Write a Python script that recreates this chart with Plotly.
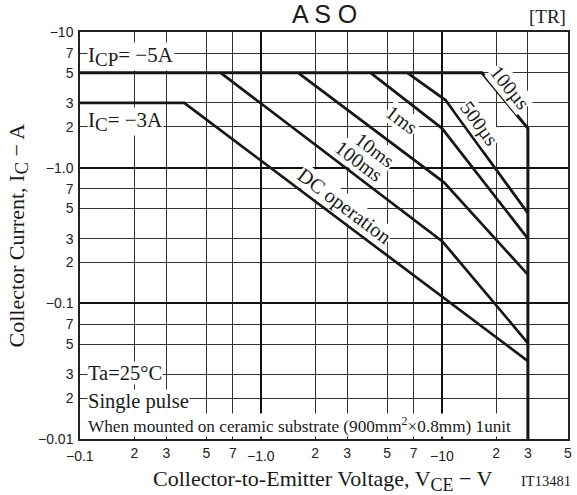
import math
import plotly.graph_objects as go

# ---------------- data (|V_CE| in V, |I_C| in A) ----------------
dc_v = [0.1, 0.377, 30]
dc_i = [3.0, 3.0, 0.0375]
ms100_v = [0.6, 10.1, 30]
ms100_i = [5.0, 0.286, 0.051]
ms10_v = [1.61, 10.3, 30]
ms10_i = [5.0, 0.78, 0.163]
ms1_v = [4.05, 10.05, 30]
ms1_i = [5.0, 1.95, 0.30]
us500_v = [6.47, 10.5, 30]
us500_i = [5.0, 3.15, 0.462]
env_v = [0.1, 16.7, 30, 30]          # I_CP line, 100us line, V_CEO limit
env_i = [5.0, 5.0, 1.95, 0.01]

x_minor_vals = [0.2, 0.3, 0.5, 0.7, 2, 3, 5, 7, 20, 30, 50]
x_minor_text = ["2", "3", "5", "7", "2", "3", "5", "7", "2", "3", "5"]
x_major_vals = [0.1, 1, 10]
x_major_text = ["\u22120.1", "\u22121.0", "\u221210"]

y_vals = [0.01, 0.02, 0.03, 0.05, 0.07, 0.1, 0.2, 0.3, 0.5, 0.7,
          1, 2, 3, 5, 7, 10]
y_text = ["\u22120.01", "2", "3", "5", "7", "\u22120.1", "2", "3", "5", "7",
          "\u22121.0", "2", "3", "5", "7", "\u221210"]
y_major_vals = [0.1, 1]

W, H = 577, 495
ML, MR, MT, MB = 80, 5, 32, 56
PW, PH = W - ML - MR, H - MT - MB

def px(xp):
    return (xp - ML) / PW

def py(yp):
    return 1 - (yp - MT) / PH

SERIF = "Liberation Serif, Times New Roman, serif"
SANS = "Liberation Sans, Arial, sans-serif"
LC = "#161616"
TICKFONT = dict(family=SANS, size=14, color="#222")

fig = go.Figure()

def add_line(v, i, w=2.7, xa="x", ya="y"):
    fig.add_trace(go.Scatter(x=v, y=i, mode="lines",
                             line=dict(color=LC, width=w),
                             hoverinfo="skip", showlegend=False,
                             xaxis=xa, yaxis=ya))

add_line(dc_v, dc_i)
add_line(ms100_v, ms100_i)
add_line(ms10_v, ms10_i)
add_line(ms1_v, ms1_i)
add_line(us500_v, us500_i)
add_line(env_v, env_i, 3.0, "x2", "y2")

xr = [-1, math.log10(50)]
yr = [-2, 1]

fig.update_layout(
    width=W, height=H,
    margin=dict(l=ML, r=MR, t=MT, b=MB),
    paper_bgcolor="white", plot_bgcolor="white",
    showlegend=False,
    xaxis=dict(type="log", range=xr, autorange=False,
               tickvals=x_minor_vals, ticktext=x_minor_text,
               showgrid=True, gridcolor="#333", gridwidth=1,
               ticks="inside", ticklen=4, tickcolor="#222", tickwidth=1,
               showline=True, linecolor="#222", linewidth=1.5, mirror=True,
               zeroline=False, tickfont=TICKFONT, ticklabelstandoff=0),
    xaxis2=dict(type="log", range=xr, autorange=False, overlaying="x",
                anchor="y", side="bottom",
                tickvals=x_major_vals, showticklabels=False,
                showgrid=True, gridcolor="#111", gridwidth=1.5,
                ticks="inside", ticklen=4, tickcolor="#222", tickwidth=1.5,
                showline=False, zeroline=False),
    yaxis=dict(type="log", range=yr, autorange=False,
               tickvals=y_vals, ticktext=y_text,
               showgrid=True, gridcolor="#333", gridwidth=1,
               ticks="", showline=True, linecolor="#222", linewidth=1.5,
               mirror=True, zeroline=False, tickfont=TICKFONT,
               ticklabelstandoff=2),
    yaxis2=dict(type="log", range=yr, autorange=False, overlaying="y",
                anchor="x", side="left",
                tickvals=y_major_vals, showticklabels=False,
                showgrid=True, gridcolor="#111", gridwidth=1.5,
                ticks="", showline=False, zeroline=False),
)

ann = []

# decade tick labels of the x axis (set slightly lower, as in the original)
for v, t in zip(x_major_vals, x_major_text):
    ann.append(dict(text=t, xref="x", yref="paper", x=math.log10(v), y=0,
                    xanchor="center", yanchor="top", yshift=-7,
                    showarrow=False, font=TICKFONT))

def text(t, xp, yp, size, font=SERIF, xanchor="center", yanchor="middle",
         angle=0, bg=None, color="#1a1a1a"):
    d = dict(text=t, xref="paper", yref="paper", x=px(xp), y=py(yp),
             xanchor=xanchor, yanchor=yanchor, showarrow=False,
             textangle=angle, font=dict(family=font, size=size, color=color),
             borderpad=0)
    if bg:
        d["bgcolor"] = bg
    ann.append(d)

def sub(s, size):
    return "<sub><span style='font-size:%dpx'>%s</span></sub>" % (size, s)

# titles
text("A S O", 326, 14, 25, font=SANS)
text("[TR]", 571, 17, 19, xanchor="right")
text("Collector-to-Emitter Voltage, V" + sub("CE", 18) + " \u2212 V",
     325, 480, 22)
text("IT13481", 576, 481, 14.5, xanchor="right")
text("Collector Current, I" + sub("C", 19) + " \u2212 A", 17, 236, 22,
     angle=-90)

# condition texts inside plot
text("I" + sub("CP", 19) + "= \u22125A", 87, 56, 21, xanchor="left", bg="white")
text("I" + sub("C", 19) + "= \u22123A", 87, 122, 21, xanchor="left", bg="white")
text("Ta=25\u00b0C", 87, 373, 20.5, xanchor="left", bg="white")
text("Single pulse", 87, 401, 20.5, xanchor="left", bg="white")
text("When mounted on ceramic substrate (900mm<sup>2</sup>\u00d70.8mm) 1unit",
     87, 425, 17.2, xanchor="left", bg="white")

# curve labels
text("100\u00b5s", 514, 88, 20, angle=51, bg="white")
text("500\u00b5s", 482, 124, 20, angle=54, bg="white")
text("1ms", 405, 120, 20, angle=37, bg="white")
text("10ms", 377, 150, 20, angle=37, bg="white")
text("100ms", 361, 161.5, 20, angle=37, bg="white")
text("DC operation", 347, 206, 20.5, angle=37, bg="white")

fig.update_layout(annotations=ann)
fig.write_html("out.html")
